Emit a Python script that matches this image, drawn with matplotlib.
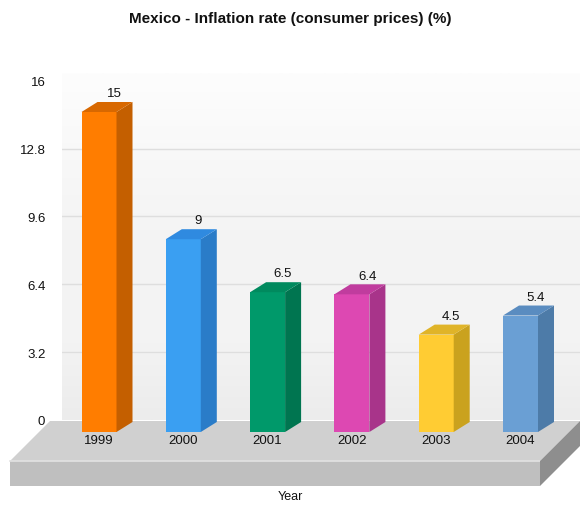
import matplotlib
matplotlib.use("Agg")
import matplotlib.pyplot as plt
import numpy as np
from matplotlib.patches import Polygon
from matplotlib.colors import LinearSegmentedColormap

years = ["1999", "2000", "2001", "2002", "2003", "2004"]
values = [15, 9, 6.5, 6.4, 4.5, 5.4]
value_labels = ["15", "9", "6.5", "6.4", "4.5", "5.4"]
yticks = [0, 3.2, 6.4, 9.6, 12.8, 16]
ytick_labels = ["0", "3.2", "6.4", "9.6", "12.8", "16"]
front_colors = ["#ff7d00", "#3a9ff2", "#00996a", "#dd48b2", "#ffcc33", "#6a9fd4"]
side_colors = ["#c45f00", "#2a7cc8", "#007550", "#a8348a", "#caa21e", "#4d7ba8"]
top_colors = ["#d86800", "#2f8ae0", "#008a5e", "#c03c9e", "#e0b428", "#5a8cc0"]

FONT = "Liberation Sans"
W, H = 580, 506
fig = plt.figure(figsize=(W / 100, H / 100), dpi=100)
fig.patch.set_facecolor("white")

# axes placement in pixels
ax_l, ax_r, ax_t, ax_b = 62, 580, 72, 490
ax = fig.add_axes([ax_l / W, (H - ax_b) / H, (ax_r - ax_l) / W, (ax_b - ax_t) / H])
px_x = 84.3   # px per category unit
px_y = 21.2   # px per value unit
x0 = 99       # px of first category
y0 = 421      # px of zero
ax.set_xlim((ax_l - x0) / px_x, (ax_r - x0) / px_x)
ax.set_ylim(-(ax_b - y0) / px_y, (y0 - ax_t) / px_y)
ax.set_facecolor("white")
for s in ax.spines.values():
    s.set_visible(False)

# back wall with gradient
xl, xr = ax.get_xlim()
wall_top = (y0 - 74) / px_y
grad = np.linspace(0, 1, 200).reshape(-1, 1)
cmap = LinearSegmentedColormap.from_list("wall", ["#ececec", "#f4f4f4", "#f3f3f3", "#f8f8f8", "#fdfdfd"])
ax.imshow(grad, extent=[(60 - x0) / px_x, xr, 0, wall_top], origin="lower",
          cmap=cmap, aspect="auto", zorder=0, interpolation="bilinear")
for g in [3.2, 6.4, 9.6, 12.8]:
    ax.plot([(60 - x0) / px_x, xr], [g, g], color="#dedede", lw=1, zorder=1)

# floor
fdx = 40 / px_x
fdy = 40 / px_y
f_front = -(462 - y0) / px_y
f_bottom = -(487 - y0) / px_y
f_left = (10 - x0) / px_x
f_right = (540 - x0) / px_x
top_poly = [(f_left, f_front), (f_right, f_front), (f_right + fdx, f_front + fdy), (f_left + fdx, f_front + fdy)]
front_poly = [(f_left, f_bottom), (f_right, f_bottom), (f_right, f_front), (f_left, f_front)]
side_poly = [(f_right, f_bottom), (f_right + fdx, f_bottom + fdy), (f_right + fdx, f_front + fdy), (f_right, f_front)]
ax.add_patch(Polygon(top_poly, closed=True, facecolor="#d0d0d0", edgecolor="none", zorder=2, clip_on=False))
ax.add_patch(Polygon(front_poly, closed=True, facecolor="#bfbfbf", edgecolor="none", zorder=2, clip_on=False))
ax.plot([f_left, f_right], [f_front, f_front], color="#e2e2e2", lw=1.2, zorder=2, clip_on=False)
ax.add_patch(Polygon(side_poly, closed=True, facecolor="#8e8e8e", edgecolor="none", zorder=2, clip_on=False))

# bars
bw = 35 / px_x
bdx = 16 / px_x
bdy = 10 / px_y
base = -(433 - y0) / px_y
xs = np.arange(len(years))
bars = ax.bar(xs, [v - bdy - base for v in values], width=bw, bottom=base, color=front_colors,
              edgecolor="none", zorder=4)
for i, b in enumerate(bars):
    left = b.get_x()
    right = left + b.get_width()
    top = b.get_y() + b.get_height()
    bot = b.get_y()
    side = [(right, bot), (right + bdx, bot + bdy), (right + bdx, top + bdy), (right, top)]
    topf = [(left, top), (right, top), (right + bdx, top + bdy), (left + bdx, top + bdy)]
    ax.add_patch(Polygon(side, closed=True, facecolor=side_colors[i], edgecolor="none", zorder=4))
    ax.add_patch(Polygon(topf, closed=True, facecolor=top_colors[i], edgecolor="none", zorder=4))
    ax.annotate(value_labels[i], (b.get_x() + b.get_width() / 2 + 0.18, top + bdy),
                xytext=(0, 2), textcoords="offset points", ha="center", va="bottom",
                fontsize=9.5, family=FONT, color="#111111", zorder=6)
    ax.text(b.get_x() + b.get_width() / 2, -(441 - y0) / px_y, years[i], ha="center", va="center",
            fontsize=9.5, family=FONT, color="#111111", zorder=6)

ax.set_xticks([])
ax.set_yticks(yticks)
ax.set_yticklabels(ytick_labels, family=FONT, fontsize=9.5, color="#111111")
ax.tick_params(axis="y", length=0, pad=12)

fig.text(290 / W, 1 - 19 / H, "Mexico - Inflation rate (consumer prices) (%)", ha="center", va="center",
         fontsize=11, fontweight="bold", family=FONT, color="#111111")
fig.text(290 / W, 1 - 497 / H, "Year", ha="center", va="center", fontsize=9, family=FONT, color="#111111")

fig.savefig("out.png", dpi=100)
